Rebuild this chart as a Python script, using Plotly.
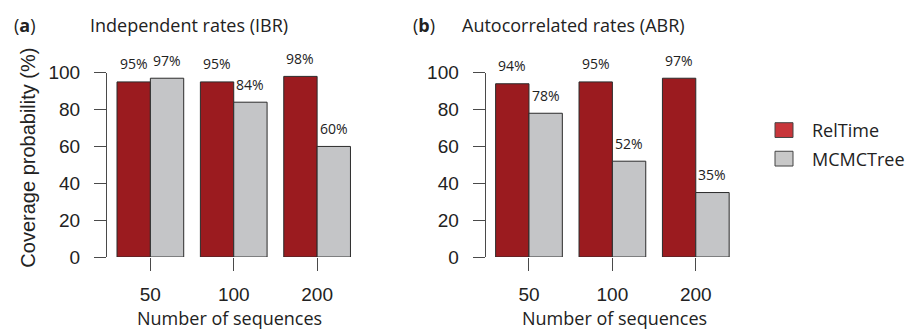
import plotly.graph_objects as go

# Coverage probabilities (%) by number of sequences
seq_counts = ["50", "100", "200"]
reltime_ibr = [95, 95, 98]
mcmctree_ibr = [97, 84, 60]
reltime_abr = [94, 95, 97]
mcmctree_abr = [78, 52, 35]
y_ticks = [0, 20, 40, 60, 80, 100]

W, H = 909, 335
RED = "#9B1B1F"
GREY = "#C4C5C7"
EDGE = "#2b2b2b"
AXIS = "#4a4a4a"
TEXT = "#222222"
SANS = "Open Sans"
ARIAL = "Liberation Sans, Arial"

# page offset / usable height of the drawing surface
TOP, USE_H = 8, 319


def px_x(v):
    return v / W


def px_y(v):
    return 1 - (v - TOP) / USE_H


fig = go.Figure()

panels = [
    ("x", "y", reltime_ibr, mcmctree_ibr),
    ("x2", "y2", reltime_abr, mcmctree_abr),
]
pos = list(range(len(seq_counts)))
bar_w = 0.4

for xa, ya, rel, mc in panels:
    for vals, color, shift in ((rel, RED, -0.2), (mc, GREY, 0.2)):
        xs = [p + shift for p in pos]
        fig.add_trace(go.Bar(
            x=xs, y=vals, width=bar_w, xaxis=xa, yaxis=ya,
            marker=dict(color=color, line=dict(color=EDGE, width=1)),
            showlegend=False, hoverinfo="skip",
        ))
        for xv, v in zip(xs, vals):
            fig.add_annotation(
                x=xv, y=v, xref=xa, yref=ya, text=f"{v}%",
                showarrow=False, yanchor="bottom", xanchor="center",
                yshift=6.5, font=dict(family=SANS, size=14, color=TEXT),
            )

y_dom = [px_y(259), px_y(71.7)]
x_common = dict(
    range=[-0.52, 2.5], tickmode="array", tickvals=pos, ticktext=seq_counts,
    showline=False, showgrid=False, zeroline=False, ticks="outside",
    ticklen=13, tickwidth=1, tickcolor=AXIS, ticklabelstandoff=7,
    tickfont=dict(family=ARIAL, size=19, color=TEXT), fixedrange=True,
)
y_common = dict(
    range=[0, 100], domain=y_dom, tickmode="array", tickvals=y_ticks,
    showline=True, linecolor=AXIS, linewidth=1, showgrid=False,
    zeroline=False, ticks="outside", ticklen=12, tickwidth=1,
    tickcolor=AXIS, ticklabelstandoff=10,
    tickfont=dict(family=ARIAL, size=19, color=TEXT), fixedrange=True,
)

fig.update_layout(
    width=W, height=H,
    margin=dict(l=0, r=0, t=0, b=0),
    paper_bgcolor="white", plot_bgcolor="white",
    barmode="overlay", showlegend=False,
    xaxis=dict(domain=[px_x(107), px_x(358.8)], anchor="y", **x_common),
    yaxis=dict(anchor="x", **y_common),
    xaxis2=dict(domain=[px_x(485.6), px_x(737.5)], anchor="y2", **x_common),
    yaxis2=dict(anchor="x2", **y_common),
)

# Panel labels and titles
head = [
    ("(<b>a</b>)", 24.5, "center"),
    ("Independent rates (IBR)", 88, "left"),
    ("(<b>b</b>)", 424, "center"),
    ("Autocorrelated rates (ABR)", 460, "left"),
]
for txt, x, anc in head:
    fig.add_annotation(
        x=px_x(x), y=px_y(23.5), xref="paper", yref="paper", text=txt,
        showarrow=False, xanchor=anc, yanchor="middle",
        font=dict(family=SANS, size=18, color=TEXT),
    )

# Axis titles
for cx in (229, 614):
    fig.add_annotation(
        x=px_x(cx), y=px_y(321), xref="paper", yref="paper",
        text="Number of sequences", showarrow=False,
        xanchor="center", yanchor="middle",
        font=dict(family=SANS, size=18, color=TEXT),
    )
fig.add_annotation(
    x=px_x(28.5), y=px_y(158.5), xref="paper", yref="paper",
    text="Coverage probability (%)", showarrow=False, textangle=-90,
    xanchor="center", yanchor="middle",
    font=dict(family=ARIAL, size=20, color=TEXT),
)

# Legend
legend_items = [("RelTime", "#C8363B", 130), ("MCMCTree", "#C8C8C8", 159)]
for name, color, cy in legend_items:
    fig.add_shape(
        type="rect", xref="paper", yref="paper",
        x0=px_x(775), x1=px_x(793), y0=px_y(cy - 7.5), y1=px_y(cy + 7.5),
        fillcolor=color, line=dict(color="#444444", width=1),
    )
    fig.add_annotation(
        x=px_x(810), y=px_y(cy), xref="paper", yref="paper", text=name,
        showarrow=False, xanchor="left", yanchor="middle",
        font=dict(family=SANS, size=18, color=TEXT),
    )

fig.write_html("out.html")
